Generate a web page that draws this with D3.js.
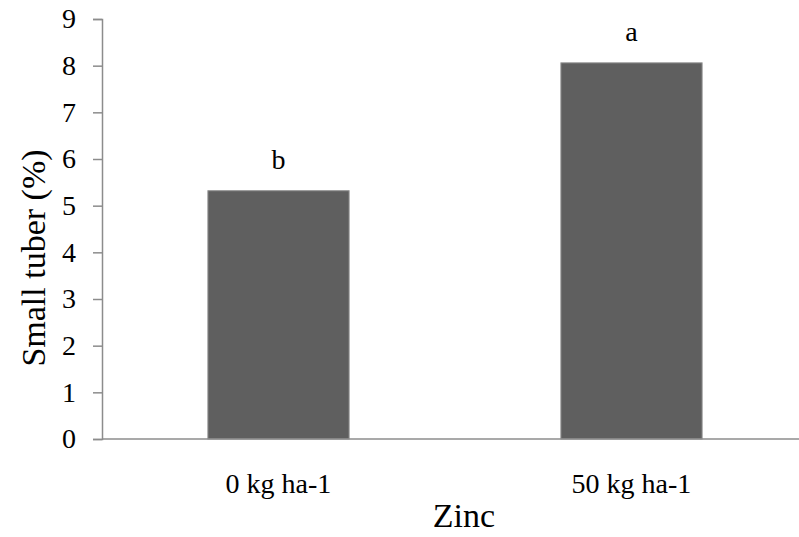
<!DOCTYPE html>
<html>
<head>
<meta charset="utf-8">
<script src="https://cdn.jsdelivr.net/npm/d3@7"></script>
<style>
  body { margin: 0; background: #fff; }
  svg text { font-family: "Liberation Serif", "Times New Roman", serif; fill: #000; }
</style>
</head>
<body>
<svg id="chart"></svg>
<script>
// data
const categories = ["0 kg ha-1", "50 kg ha-1"];
const values = [5.32, 8.06];
const letters = ["b", "a"];
const yTicks = [0, 1, 2, 3, 4, 5, 6, 7, 8, 9];

const W = 799, H = 537;
const svg = d3.select("#chart").attr("width", W).attr("height", H);

const x0 = 102, y0 = 439, yTop = 19;

const x = d3.scaleBand().domain(categories).range([x0, 808])
  .paddingInner(0.6).paddingOuter(0.3);
const y = d3.scaleLinear().domain([0, 9]).range([y0, yTop]);

// bars
svg.selectAll(".bar")
  .data(values)
  .enter()
  .append("rect")
  .attr("class", "bar")
  .attr("x", (d, i) => x(categories[i]))
  .attr("width", x.bandwidth())
  .attr("y", d => y(d))
  .attr("height", d => y0 - y(d))
  .attr("fill", "#5f5f5f")
  .attr("stroke", "#8f8f8f")
  .attr("stroke-width", 1);

// significance letters
svg.selectAll(".letter")
  .data(values)
  .enter()
  .append("text")
  .attr("x", (d, i) => x(categories[i]) + x.bandwidth() / 2)
  .attr("y", d => y(d) - 22)
  .attr("text-anchor", "middle")
  .style("font-size", "28px")
  .text((d, i) => letters[i]);

// y axis
const yAxis = svg.append("g")
  .attr("transform", `translate(${x0},0)`)
  .attr("font-family", "Liberation Serif, serif")
  .call(d3.axisLeft(y).tickValues(yTicks).tickSize(9).tickPadding(17));
yAxis.select(".domain").attr("stroke", "#8c8c8c").attr("stroke-width", 1.5);
yAxis.selectAll(".tick line").attr("stroke", "#8c8c8c").attr("stroke-width", 1.5);
yAxis.selectAll("text").style("font-size", "28px")
  .style("font-family", "Liberation Serif, serif").attr("fill", "#000");

// x axis line
svg.append("line")
  .attr("x1", x0).attr("x2", W)
  .attr("y1", y0).attr("y2", y0)
  .attr("stroke", "#8c8c8c").attr("stroke-width", 1.5);

// x category labels
svg.selectAll(".xlab")
  .data(categories)
  .enter()
  .append("text")
  .attr("x", d => x(d) + x.bandwidth() / 2)
  .attr("y", 493)
  .attr("text-anchor", "middle")
  .style("font-size", "28px")
  .text(d => d);

// axis titles
svg.append("text")
  .attr("x", 464)
  .attr("y", 527)
  .attr("text-anchor", "middle")
  .style("font-size", "34px")
  .text("Zinc");

svg.append("text")
  .attr("transform", "translate(45,258) rotate(-90)")
  .attr("text-anchor", "middle")
  .style("font-size", "34px")
  .text("Small tuber (%)");
</script>
</body>
</html>
